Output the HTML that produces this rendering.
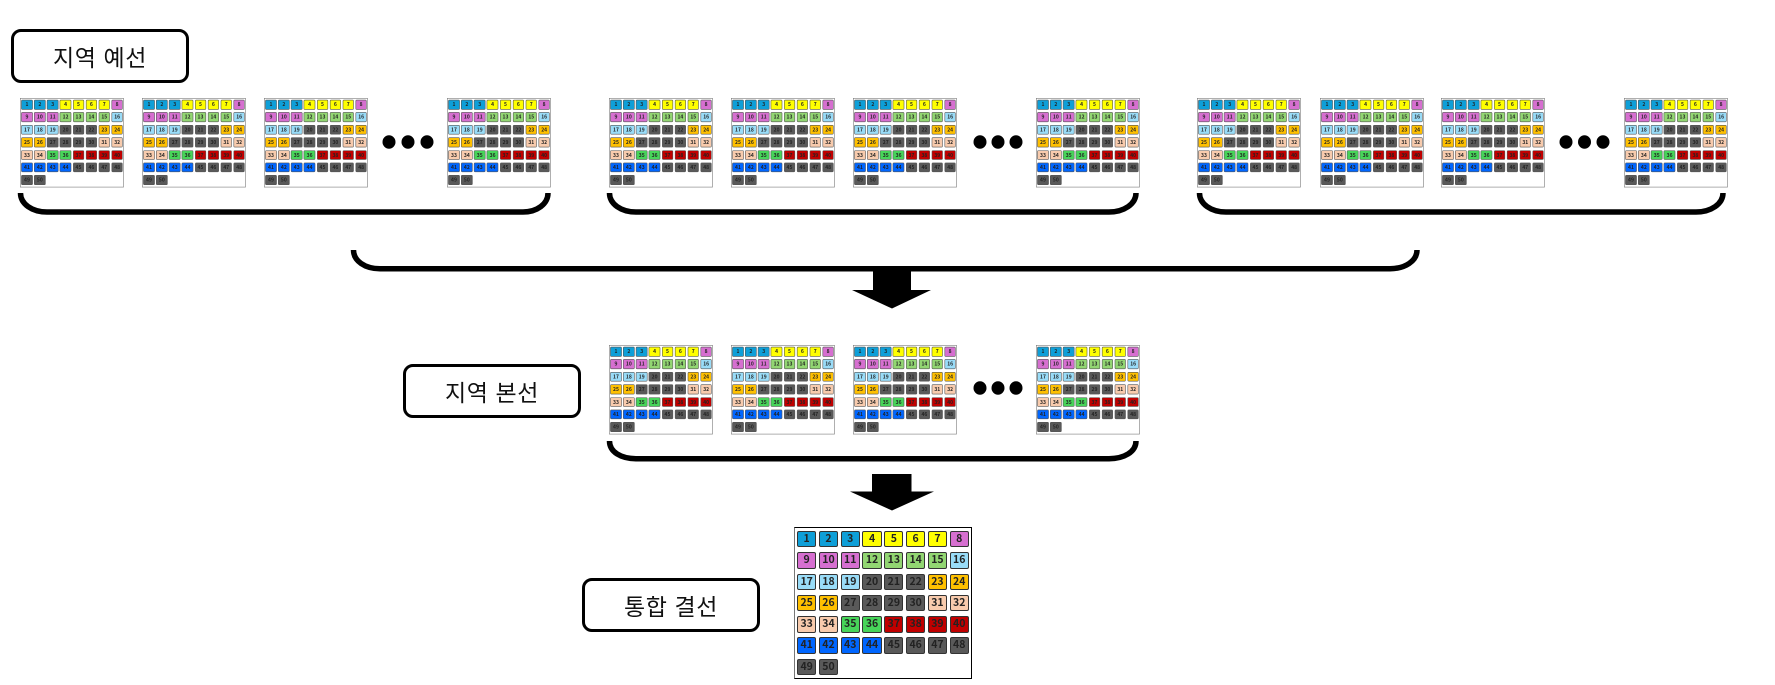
<!DOCTYPE html>
<html lang="ko"><head><meta charset="utf-8"><title>결선</title>
<style>
html,body{margin:0;padding:0;background:#fff}
#w{position:relative;width:1775px;height:685px;overflow:hidden;background:#fff;font-family:"Liberation Sans","Noto Sans CJK KR",sans-serif}
svg{position:absolute;left:0;top:0}
.l{position:absolute;box-sizing:border-box;border:3px solid #000;border-radius:10px;background:#fff;display:flex;align-items:center;justify-content:center;font-size:23px;letter-spacing:.6px;color:#111;font-family:"Noto Sans CJK KR",sans-serif;white-space:pre;filter:blur(.3px)}
.g{position:absolute;box-sizing:border-box;width:178px;height:152px;background:#fff;border:1.2px solid #000;border-left-color:#777;padding:3px 0 0 2px;display:grid;grid-template-columns:repeat(8,19.3px);grid-auto-rows:16.4px;column-gap:2.5px;row-gap:4.9px;font:bold 10.5px "Noto Sans CJK KR","Liberation Sans",sans-serif;color:#222;filter:blur(.3px)}
.s{transform-origin:0 0;transform:scale(.583,.588);border:1.7px solid #777;padding:2px 0 0 1.2px;grid-template-columns:repeat(8,19.5px);grid-auto-rows:16.5px;column-gap:2.6px;row-gap:4.9px;font-size:8.5px;filter:blur(.45px)}
.g i{font-style:normal;box-sizing:border-box;border:1.5px solid #333;border-radius:2px;display:flex;align-items:center;justify-content:center;line-height:1;background:#595959}
.s i{border:1.4px solid #555}
.g i:nth-child(-n+3){background:#0e9fd8}
.g i:nth-child(n+4):nth-child(-n+7){background:#ff0}
.g i:nth-child(n+8):nth-child(-n+11){background:#d66fd0}
.g i:nth-child(n+12):nth-child(-n+15){background:#92d672}
.g i:nth-child(n+16):nth-child(-n+19){background:#99dcf8}
.g i:nth-child(n+23):nth-child(-n+26){background:#ffc000}
.g i:nth-child(n+31):nth-child(-n+34){background:#f8cbad}
.g i:nth-child(n+35):nth-child(-n+36){background:#47d459}
.g i:nth-child(n+37):nth-child(-n+40){background:#c00000}
.g i:nth-child(n+41):nth-child(-n+44){background:#06f}
</style></head><body><div id="w">
<svg width="1775" height="685" viewBox="0 0 1775 685">
<g fill="none" stroke="#000" stroke-width="5.5">
<path d="M20.500 193C20.500 204 32 212 47 212H523C537 212 548 204 548 193"/>
<path d="M609.500 193C609.500 204 621 212 636 212H1109C1124 212 1136 204 1136 193"/>
<path d="M1199.500 193C1199.500 204 1211 212 1226 212H1696C1711 212 1723 204 1723 193"/>
<path d="M353.500 250C353.500 261 365 268.700 380 268.700H1390C1405 268.700 1417 261 1417 250"/>
<path d="M609.500 441C609.500 452 621 458.700 636 458.700H1109C1124 458.700 1136 452 1136 441"/>
</g>
<path d="M873 271H911V290H931L892 308.500L852 290H873Z" fill="#000"/>
<path d="M872 474H911.500V491.500H934L892 510.500L850 491.500H872Z" fill="#000"/>
<g fill="#000">
<ellipse cx="389" cy="142" rx="6.500" ry="6.700"/><ellipse cx="408" cy="142" rx="6.500" ry="6.700"/><ellipse cx="427" cy="142" rx="6.500" ry="6.700"/>
<ellipse cx="980" cy="142" rx="6.500" ry="6.700"/><ellipse cx="998" cy="142" rx="6.500" ry="6.700"/><ellipse cx="1016" cy="142" rx="6.500" ry="6.700"/>
<ellipse cx="1566" cy="142" rx="6.500" ry="6.700"/><ellipse cx="1584.500" cy="142" rx="6.500" ry="6.700"/><ellipse cx="1603" cy="142" rx="6.500" ry="6.700"/>
<ellipse cx="980" cy="388" rx="6.500" ry="6.700"/><ellipse cx="998" cy="388" rx="6.500" ry="6.700"/><ellipse cx="1016" cy="388" rx="6.500" ry="6.700"/>
</g>
</svg>
<div class="l" style="left:11px;top:29px;width:178px;height:54px">지역 예선</div>
<div class="l" style="left:403px;top:364px;width:178px;height:54px">지역 본선</div>
<div class="l" style="left:582px;top:578px;width:178px;height:54px">통합 결선</div>

<div class="g s" style="left:20.300px;top:98.300px"><i>1</i><i>2</i><i>3</i><i>4</i><i>5</i><i>6</i><i>7</i><i>8</i><i>9</i><i>10</i><i>11</i><i>12</i><i>13</i><i>14</i><i>15</i><i>16</i><i>17</i><i>18</i><i>19</i><i>20</i><i>21</i><i>22</i><i>23</i><i>24</i><i>25</i><i>26</i><i>27</i><i>28</i><i>29</i><i>30</i><i>31</i><i>32</i><i>33</i><i>34</i><i>35</i><i>36</i><i>37</i><i>38</i><i>39</i><i>40</i><i>41</i><i>42</i><i>43</i><i>44</i><i>45</i><i>46</i><i>47</i><i>48</i><i>49</i><i>50</i></div>
<div class="g s" style="left:142.400px;top:98.300px"><i>1</i><i>2</i><i>3</i><i>4</i><i>5</i><i>6</i><i>7</i><i>8</i><i>9</i><i>10</i><i>11</i><i>12</i><i>13</i><i>14</i><i>15</i><i>16</i><i>17</i><i>18</i><i>19</i><i>20</i><i>21</i><i>22</i><i>23</i><i>24</i><i>25</i><i>26</i><i>27</i><i>28</i><i>29</i><i>30</i><i>31</i><i>32</i><i>33</i><i>34</i><i>35</i><i>36</i><i>37</i><i>38</i><i>39</i><i>40</i><i>41</i><i>42</i><i>43</i><i>44</i><i>45</i><i>46</i><i>47</i><i>48</i><i>49</i><i>50</i></div>
<div class="g s" style="left:264.400px;top:98.300px"><i>1</i><i>2</i><i>3</i><i>4</i><i>5</i><i>6</i><i>7</i><i>8</i><i>9</i><i>10</i><i>11</i><i>12</i><i>13</i><i>14</i><i>15</i><i>16</i><i>17</i><i>18</i><i>19</i><i>20</i><i>21</i><i>22</i><i>23</i><i>24</i><i>25</i><i>26</i><i>27</i><i>28</i><i>29</i><i>30</i><i>31</i><i>32</i><i>33</i><i>34</i><i>35</i><i>36</i><i>37</i><i>38</i><i>39</i><i>40</i><i>41</i><i>42</i><i>43</i><i>44</i><i>45</i><i>46</i><i>47</i><i>48</i><i>49</i><i>50</i></div>
<div class="g s" style="left:447.400px;top:98.300px"><i>1</i><i>2</i><i>3</i><i>4</i><i>5</i><i>6</i><i>7</i><i>8</i><i>9</i><i>10</i><i>11</i><i>12</i><i>13</i><i>14</i><i>15</i><i>16</i><i>17</i><i>18</i><i>19</i><i>20</i><i>21</i><i>22</i><i>23</i><i>24</i><i>25</i><i>26</i><i>27</i><i>28</i><i>29</i><i>30</i><i>31</i><i>32</i><i>33</i><i>34</i><i>35</i><i>36</i><i>37</i><i>38</i><i>39</i><i>40</i><i>41</i><i>42</i><i>43</i><i>44</i><i>45</i><i>46</i><i>47</i><i>48</i><i>49</i><i>50</i></div>

<div class="g s" style="left:608.700px;top:98.300px"><i>1</i><i>2</i><i>3</i><i>4</i><i>5</i><i>6</i><i>7</i><i>8</i><i>9</i><i>10</i><i>11</i><i>12</i><i>13</i><i>14</i><i>15</i><i>16</i><i>17</i><i>18</i><i>19</i><i>20</i><i>21</i><i>22</i><i>23</i><i>24</i><i>25</i><i>26</i><i>27</i><i>28</i><i>29</i><i>30</i><i>31</i><i>32</i><i>33</i><i>34</i><i>35</i><i>36</i><i>37</i><i>38</i><i>39</i><i>40</i><i>41</i><i>42</i><i>43</i><i>44</i><i>45</i><i>46</i><i>47</i><i>48</i><i>49</i><i>50</i></div>
<div class="g s" style="left:730.600px;top:98.300px"><i>1</i><i>2</i><i>3</i><i>4</i><i>5</i><i>6</i><i>7</i><i>8</i><i>9</i><i>10</i><i>11</i><i>12</i><i>13</i><i>14</i><i>15</i><i>16</i><i>17</i><i>18</i><i>19</i><i>20</i><i>21</i><i>22</i><i>23</i><i>24</i><i>25</i><i>26</i><i>27</i><i>28</i><i>29</i><i>30</i><i>31</i><i>32</i><i>33</i><i>34</i><i>35</i><i>36</i><i>37</i><i>38</i><i>39</i><i>40</i><i>41</i><i>42</i><i>43</i><i>44</i><i>45</i><i>46</i><i>47</i><i>48</i><i>49</i><i>50</i></div>
<div class="g s" style="left:852.500px;top:98.300px"><i>1</i><i>2</i><i>3</i><i>4</i><i>5</i><i>6</i><i>7</i><i>8</i><i>9</i><i>10</i><i>11</i><i>12</i><i>13</i><i>14</i><i>15</i><i>16</i><i>17</i><i>18</i><i>19</i><i>20</i><i>21</i><i>22</i><i>23</i><i>24</i><i>25</i><i>26</i><i>27</i><i>28</i><i>29</i><i>30</i><i>31</i><i>32</i><i>33</i><i>34</i><i>35</i><i>36</i><i>37</i><i>38</i><i>39</i><i>40</i><i>41</i><i>42</i><i>43</i><i>44</i><i>45</i><i>46</i><i>47</i><i>48</i><i>49</i><i>50</i></div>
<div class="g s" style="left:1035.500px;top:98.300px"><i>1</i><i>2</i><i>3</i><i>4</i><i>5</i><i>6</i><i>7</i><i>8</i><i>9</i><i>10</i><i>11</i><i>12</i><i>13</i><i>14</i><i>15</i><i>16</i><i>17</i><i>18</i><i>19</i><i>20</i><i>21</i><i>22</i><i>23</i><i>24</i><i>25</i><i>26</i><i>27</i><i>28</i><i>29</i><i>30</i><i>31</i><i>32</i><i>33</i><i>34</i><i>35</i><i>36</i><i>37</i><i>38</i><i>39</i><i>40</i><i>41</i><i>42</i><i>43</i><i>44</i><i>45</i><i>46</i><i>47</i><i>48</i><i>49</i><i>50</i></div>

<div class="g s" style="left:1197px;top:98.300px"><i>1</i><i>2</i><i>3</i><i>4</i><i>5</i><i>6</i><i>7</i><i>8</i><i>9</i><i>10</i><i>11</i><i>12</i><i>13</i><i>14</i><i>15</i><i>16</i><i>17</i><i>18</i><i>19</i><i>20</i><i>21</i><i>22</i><i>23</i><i>24</i><i>25</i><i>26</i><i>27</i><i>28</i><i>29</i><i>30</i><i>31</i><i>32</i><i>33</i><i>34</i><i>35</i><i>36</i><i>37</i><i>38</i><i>39</i><i>40</i><i>41</i><i>42</i><i>43</i><i>44</i><i>45</i><i>46</i><i>47</i><i>48</i><i>49</i><i>50</i></div>
<div class="g s" style="left:1319.800px;top:98.300px"><i>1</i><i>2</i><i>3</i><i>4</i><i>5</i><i>6</i><i>7</i><i>8</i><i>9</i><i>10</i><i>11</i><i>12</i><i>13</i><i>14</i><i>15</i><i>16</i><i>17</i><i>18</i><i>19</i><i>20</i><i>21</i><i>22</i><i>23</i><i>24</i><i>25</i><i>26</i><i>27</i><i>28</i><i>29</i><i>30</i><i>31</i><i>32</i><i>33</i><i>34</i><i>35</i><i>36</i><i>37</i><i>38</i><i>39</i><i>40</i><i>41</i><i>42</i><i>43</i><i>44</i><i>45</i><i>46</i><i>47</i><i>48</i><i>49</i><i>50</i></div>
<div class="g s" style="left:1441.300px;top:98.300px"><i>1</i><i>2</i><i>3</i><i>4</i><i>5</i><i>6</i><i>7</i><i>8</i><i>9</i><i>10</i><i>11</i><i>12</i><i>13</i><i>14</i><i>15</i><i>16</i><i>17</i><i>18</i><i>19</i><i>20</i><i>21</i><i>22</i><i>23</i><i>24</i><i>25</i><i>26</i><i>27</i><i>28</i><i>29</i><i>30</i><i>31</i><i>32</i><i>33</i><i>34</i><i>35</i><i>36</i><i>37</i><i>38</i><i>39</i><i>40</i><i>41</i><i>42</i><i>43</i><i>44</i><i>45</i><i>46</i><i>47</i><i>48</i><i>49</i><i>50</i></div>
<div class="g s" style="left:1623.900px;top:98.300px"><i>1</i><i>2</i><i>3</i><i>4</i><i>5</i><i>6</i><i>7</i><i>8</i><i>9</i><i>10</i><i>11</i><i>12</i><i>13</i><i>14</i><i>15</i><i>16</i><i>17</i><i>18</i><i>19</i><i>20</i><i>21</i><i>22</i><i>23</i><i>24</i><i>25</i><i>26</i><i>27</i><i>28</i><i>29</i><i>30</i><i>31</i><i>32</i><i>33</i><i>34</i><i>35</i><i>36</i><i>37</i><i>38</i><i>39</i><i>40</i><i>41</i><i>42</i><i>43</i><i>44</i><i>45</i><i>46</i><i>47</i><i>48</i><i>49</i><i>50</i></div>

<div class="g s" style="left:608.700px;top:345px"><i>1</i><i>2</i><i>3</i><i>4</i><i>5</i><i>6</i><i>7</i><i>8</i><i>9</i><i>10</i><i>11</i><i>12</i><i>13</i><i>14</i><i>15</i><i>16</i><i>17</i><i>18</i><i>19</i><i>20</i><i>21</i><i>22</i><i>23</i><i>24</i><i>25</i><i>26</i><i>27</i><i>28</i><i>29</i><i>30</i><i>31</i><i>32</i><i>33</i><i>34</i><i>35</i><i>36</i><i>37</i><i>38</i><i>39</i><i>40</i><i>41</i><i>42</i><i>43</i><i>44</i><i>45</i><i>46</i><i>47</i><i>48</i><i>49</i><i>50</i></div>
<div class="g s" style="left:730.600px;top:345px"><i>1</i><i>2</i><i>3</i><i>4</i><i>5</i><i>6</i><i>7</i><i>8</i><i>9</i><i>10</i><i>11</i><i>12</i><i>13</i><i>14</i><i>15</i><i>16</i><i>17</i><i>18</i><i>19</i><i>20</i><i>21</i><i>22</i><i>23</i><i>24</i><i>25</i><i>26</i><i>27</i><i>28</i><i>29</i><i>30</i><i>31</i><i>32</i><i>33</i><i>34</i><i>35</i><i>36</i><i>37</i><i>38</i><i>39</i><i>40</i><i>41</i><i>42</i><i>43</i><i>44</i><i>45</i><i>46</i><i>47</i><i>48</i><i>49</i><i>50</i></div>
<div class="g s" style="left:852.500px;top:345px"><i>1</i><i>2</i><i>3</i><i>4</i><i>5</i><i>6</i><i>7</i><i>8</i><i>9</i><i>10</i><i>11</i><i>12</i><i>13</i><i>14</i><i>15</i><i>16</i><i>17</i><i>18</i><i>19</i><i>20</i><i>21</i><i>22</i><i>23</i><i>24</i><i>25</i><i>26</i><i>27</i><i>28</i><i>29</i><i>30</i><i>31</i><i>32</i><i>33</i><i>34</i><i>35</i><i>36</i><i>37</i><i>38</i><i>39</i><i>40</i><i>41</i><i>42</i><i>43</i><i>44</i><i>45</i><i>46</i><i>47</i><i>48</i><i>49</i><i>50</i></div>
<div class="g s" style="left:1035.500px;top:345px"><i>1</i><i>2</i><i>3</i><i>4</i><i>5</i><i>6</i><i>7</i><i>8</i><i>9</i><i>10</i><i>11</i><i>12</i><i>13</i><i>14</i><i>15</i><i>16</i><i>17</i><i>18</i><i>19</i><i>20</i><i>21</i><i>22</i><i>23</i><i>24</i><i>25</i><i>26</i><i>27</i><i>28</i><i>29</i><i>30</i><i>31</i><i>32</i><i>33</i><i>34</i><i>35</i><i>36</i><i>37</i><i>38</i><i>39</i><i>40</i><i>41</i><i>42</i><i>43</i><i>44</i><i>45</i><i>46</i><i>47</i><i>48</i><i>49</i><i>50</i></div>

<div class="g" style="left:794px;top:527px"><i>1</i><i>2</i><i>3</i><i>4</i><i>5</i><i>6</i><i>7</i><i>8</i><i>9</i><i>10</i><i>11</i><i>12</i><i>13</i><i>14</i><i>15</i><i>16</i><i>17</i><i>18</i><i>19</i><i>20</i><i>21</i><i>22</i><i>23</i><i>24</i><i>25</i><i>26</i><i>27</i><i>28</i><i>29</i><i>30</i><i>31</i><i>32</i><i>33</i><i>34</i><i>35</i><i>36</i><i>37</i><i>38</i><i>39</i><i>40</i><i>41</i><i>42</i><i>43</i><i>44</i><i>45</i><i>46</i><i>47</i><i>48</i><i>49</i><i>50</i></div>
</div></body></html>
